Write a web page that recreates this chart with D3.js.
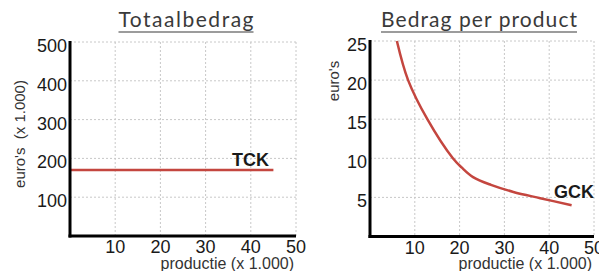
<!DOCTYPE html>
<html>
<head>
<meta charset="utf-8">
<script src="https://cdn.jsdelivr.net/npm/d3@7"></script>
<style>
  body { margin: 0; background: #fff; }
  text { font-family: "Liberation Sans", Arial, sans-serif; fill: #1a1a1a; }
  .title { font-family: Lato, "DejaVu Sans", sans-serif; font-weight: 400; font-size: 21px; fill: #3a3a3a; }
  .grid line { stroke: #c8c8c8; stroke-dasharray: 2,2; }
</style>
</head>
<body>
<script>
// data
var xTicks = [10, 20, 30, 40, 50];
var leftYTicks = [100, 200, 300, 400, 500];
var rightYTicks = [5, 10, 15, 20, 25];

// totaal constante kosten (flat)
var tckX = [0, 45];
var tckY = [170, 170];

// gemiddelde constante kosten
var gckX = [6, 8.5, 12.8, 18.5, 20.5, 23, 27, 32, 38, 45];
var gckY = [25, 20, 15, 10, 8.8, 7.6, 6.6, 5.7, 4.9, 4.0];

var red = "#c4463f";

var svg = d3.select("body").append("svg")
    .attr("width", 599)
    .attr("height", 271);

function panel(opts) {
  var x = d3.scaleLinear().domain([0, 50]).range(opts.xr);
  var y = d3.scaleLinear().domain([0, opts.ymax]).range(opts.yr);
  var g = svg.append("g");

  // dotted grid
  var grid = g.append("g").attr("class", "grid");
  grid.selectAll(".v").data(xTicks).enter().append("line")
      .attr("x1", d => x(d)).attr("x2", d => x(d))
      .attr("y1", y(opts.ymax)).attr("y2", y(0));
  grid.selectAll(".h").data(opts.yTicks).enter().append("line")
      .attr("x1", x(0)).attr("x2", x(50))
      .attr("y1", d => y(d)).attr("y2", d => y(d));

  // tick labels
  g.selectAll(".yt").data(opts.yTicks).enter().append("text")
      .attr("x", x(0) - 3).attr("y", d => y(d))
      .attr("dy", "0.55em")
      .attr("text-anchor", "end")
      .style("font-size", "18px")
      .text(d => d);
  g.selectAll(".xt").data(xTicks).enter().append("text")
      .attr("x", d => x(d)).attr("y", y(0) + 17)
      .attr("text-anchor", "middle")
      .style("font-size", "18px")
      .text(d => d);

  // the curve
  var line = d3.line()
      .x(d => x(d[0])).y(d => y(d[1]))
      .curve(d3.curveCatmullRom.alpha(0.5));
  g.append("path")
      .datum(d3.zip(opts.sx, opts.sy))
      .attr("d", line)
      .attr("fill", "none")
      .attr("stroke", red)
      .attr("stroke-width", 2.5);

  g.append("text")
      .attr("x", opts.lab[0]).attr("y", opts.lab[1])
      .attr("text-anchor", "end")
      .style("font-size", "18px")
      .style("font-weight", "bold")
      .text(opts.name);

  // axes: thick black lines
  g.append("line")
      .attr("x1", x(0)).attr("x2", x(0))
      .attr("y1", y(opts.ymax) - 1).attr("y2", y(0) + 1.5)
      .attr("stroke", "#000").attr("stroke-width", 3);
  g.append("line")
      .attr("x1", x(0) - 1.5).attr("x2", x(50))
      .attr("y1", y(0)).attr("y2", y(0))
      .attr("stroke", "#000").attr("stroke-width", 3);

  // axis titles
  g.append("text")
      .attr("x", x(50) - 2).attr("y", 269)
      .attr("text-anchor", "end")
      .style("font-size", "16px")
      .style("fill", "#333")
      .text("productie (x 1.000)");
  g.append("text")
      .attr("transform", "translate(" + opts.yl[0] + "," + opts.yl[1] + ") rotate(-90)")
      .attr("text-anchor", "middle")
      .attr("dy", "0.35em")
      .style("font-size", "15px")
      .style("fill", "#333")
      .attr("xml:space", "preserve")
      .text(opts.ylab);

  // underlined title
  g.append("text")
      .attr("class", "title")
      .attr("x", opts.tc).attr("y", 27)
      .attr("text-anchor", "middle")
      .attr("textLength", opts.tw)
      .attr("lengthAdjust", "spacing")
      .text(opts.title);
  g.append("line")
      .attr("x1", opts.tc - opts.tw / 2).attr("x2", opts.tc + opts.tw / 2)
      .attr("y1", 32).attr("y2", 32)
      .attr("stroke", "#3a3a3a").attr("stroke-width", 1.2);
}

panel({
  xr: [70, 296], yr: [236, 42], ymax: 500, yTicks: leftYTicks,
  sx: tckX, sy: tckY, name: "TCK", lab: [269, 166],
  ylab: "euro's  (x 1.000)", yl: [20, 134],
  title: "Totaalbedrag", tc: 186, tw: 135
});
panel({
  xr: [370, 594], yr: [236.5, 41], ymax: 25, yTicks: rightYTicks,
  sx: gckX, sy: gckY, name: "GCK", lab: [594, 198],
  ylab: "euro's", yl: [334, 81],
  title: "Bedrag per product", tc: 479, tw: 196
});
</script>
</body>
</html>
